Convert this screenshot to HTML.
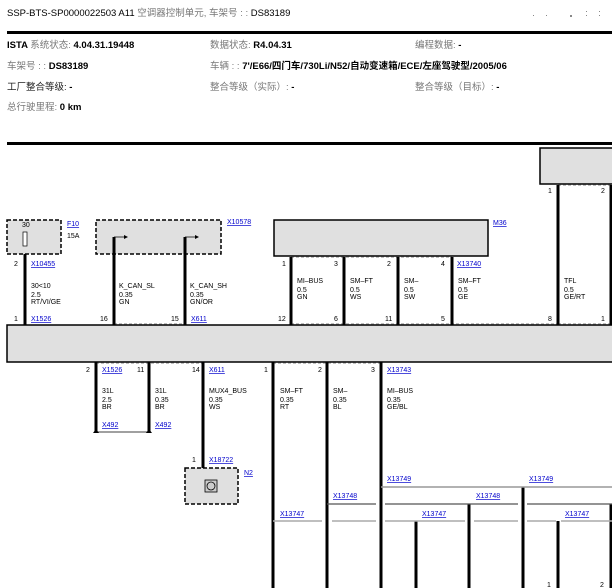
<!DOCTYPE html>
<html><head><meta charset="utf-8"><style>
html,body{margin:0;padding:0;background:#fff;width:612px;height:588px;overflow:hidden}
svg{display:block}
text{font-family:"Liberation Sans","Noto Sans CJK SC",sans-serif}
.h{font-size:10px;fill:#000}
.g{fill:#777}
.s{font-size:7px;fill:#000}
.l{font-size:7px;fill:#00c;text-decoration:underline}
</style></head><body>
<svg width="612" height="588" viewBox="0 0 612 588" xmlns="http://www.w3.org/2000/svg">
<text x="7" y="16" class="h" style="font-size:9.5px">SSP-BTS-SP0000022503 A11 <tspan class="g">空调器控制单元, 车架号 : :</tspan> DS83189</text>
<g fill="#888"><rect x="533" y="15" width="1" height="1"/><rect x="546" y="15" width="1" height="1"/><rect x="570" y="15" width="2" height="2"/><rect x="586" y="11" width="1" height="1"/><rect x="586" y="15" width="1" height="1"/><rect x="599" y="11" width="1" height="1"/><rect x="599" y="15" width="1" height="1"/></g>
<rect x="7" y="31" width="605" height="3" fill="#000"/>
<g class="h" font-weight="bold" style="font-size:9.5px">
<text x="7" y="48">ISTA <tspan class="g" font-weight="normal">系统状态:</tspan> 4.04.31.19448</text>
<text x="210" y="48"><tspan class="g" font-weight="normal">数据状态:</tspan> R4.04.31</text>
<text x="415" y="48"><tspan class="g" font-weight="normal">编程数据:</tspan> -</text>
<text x="7" y="69"><tspan class="g" font-weight="normal">车架号 : :</tspan> DS83189</text>
<text x="210" y="69"><tspan class="g" font-weight="normal">车辆 : :</tspan> 7'/E66/四门车/730Li/N52/自动变速箱/ECE/左座驾驶型/2005/06</text>
<text x="7" y="90"><tspan font-weight="normal" fill="#222">工厂整合等级:</tspan> -</text>
<text x="210" y="90"><tspan class="g" font-weight="normal">整合等级（实际）:</tspan> -</text>
<text x="415" y="90"><tspan class="g" font-weight="normal">整合等级（目标）:</tspan> -</text>
<text x="7" y="110"><tspan class="g" font-weight="normal">总行驶里程:</tspan> 0 km</text>
</g>
<rect x="7" y="142" width="605" height="3" fill="#000"/>

<rect x="7" y="220" width="54" height="34" fill="#e0e0e0" stroke="#000" stroke-width="1.5" stroke-dasharray="4,2"/>
<rect x="23" y="232" width="4" height="14" fill="#fff" stroke="#000" stroke-width="0.7"/>
<text x="22" y="227" class="s">30</text>
<text x="67" y="226" class="l">F10</text><text x="67" y="238" class="s">15A</text>
<rect x="96" y="220" width="125" height="34" fill="#e0e0e0" stroke="#000" stroke-width="1.5" stroke-dasharray="4,2"/>
<text x="227" y="224" class="l">X10578</text>
<path d="M114 237H124M185 237H195" stroke="#000" stroke-width="0.8"/>
<path d="M124 235l4 2-4 2zM195 235l4 2-4 2z" fill="#000"/>
<rect x="274" y="220" width="214" height="36" fill="#e0e0e0" stroke="#000" stroke-width="1.5"/>
<text x="493" y="225" class="l">M36</text>
<rect x="540" y="148" width="80" height="36" fill="#e0e0e0" stroke="#000" stroke-width="1.5"/>

<rect x="7" y="325" width="610" height="37" fill="#e0e0e0" stroke="#000" stroke-width="1.5"/>

<g stroke="#555" stroke-width="0.7" stroke-dasharray="3,2" fill="none">
<path d="M114 324H185"/><path d="M291 257H452"/><path d="M291 324H558"/><path d="M558 185H612"/><path d="M558 324H612"/>
<path d="M96 363H203"/><path d="M273 363H381"/>
</g>

<g stroke="#000" stroke-width="3">
<path d="M25 254V325M114 237V325M185 237V325M291 257V325M344 257V325M398 257V325M452 257V325M558 185V325M611 185V325"/>
</g>
<g class="s">
<text x="14" y="266">2</text><text x="31" y="266" class="l">X10455</text>
<text x="31" y="288">30&lt;10</text><text x="31" y="297">2.5</text><text x="31" y="304">RT/VI/GE</text>
<text x="14" y="321">1</text><text x="31" y="321" class="l">X1526</text>
<text x="119" y="288">K_CAN_SL</text><text x="119" y="297">0.35</text><text x="119" y="304">GN</text>
<text x="190" y="288">K_CAN_SH</text><text x="190" y="297">0.35</text><text x="190" y="304">GN/OR</text>
<text x="100" y="321">16</text><text x="171" y="321">15</text><text x="191" y="321" class="l">X611</text>
<text x="282" y="266">1</text><text x="334" y="266">3</text><text x="387" y="266">2</text><text x="441" y="266">4</text>
<text x="457" y="266" class="l">X13740</text>
<text x="297" y="283">MI–BUS</text><text x="297" y="292">0.5</text><text x="297" y="299">GN</text>
<text x="350" y="283">SM–FT</text><text x="350" y="292">0.5</text><text x="350" y="299">WS</text>
<text x="404" y="283">SM–</text><text x="404" y="292">0.5</text><text x="404" y="299">SW</text>
<text x="458" y="283">SM–FT</text><text x="458" y="292">0.5</text><text x="458" y="299">GE</text>
<text x="564" y="283">TFL</text><text x="564" y="292">0.5</text><text x="564" y="299">GE/RT</text>
<text x="278" y="321">12</text><text x="334" y="321">6</text><text x="385" y="321">11</text><text x="441" y="321">5</text>
<text x="548" y="321">8</text><text x="601" y="321">1</text>
<text x="548" y="193">1</text><text x="601" y="193">2</text>
</g>

<g stroke="#000" stroke-width="3">
<path d="M96 362V432M149 362V432M203 362V468M273 362V588M327 362V588M381 362V588"/>
<path d="M416 521V588M469 504V588M523 487V588M558 521V588M611 504V588"/>
</g>
<path d="M96 432H149" stroke="#000" stroke-width="0.7"/>
<path d="M93 433h6l-3-4zM146 433h6l-3-4z" fill="#000"/>
<g stroke="#999" stroke-width="1.5"><path d="M381 487H612"/></g>
<g stroke="#555" stroke-width="1.2"><path d="M327 504H376M385 504H518M527 504H612"/></g>
<g stroke="#aaa" stroke-width="1.5"><path d="M273 521H322M332 521H376M385 521H465M474 521H518M527 521H556M561 521H612"/></g>

<rect x="185" y="468" width="53" height="36" fill="#e0e0e0" stroke="#000" stroke-width="1.5" stroke-dasharray="4,2"/>
<rect x="205" y="480" width="12" height="12" fill="#ccc" stroke="#000" stroke-width="0.8"/>
<circle cx="211" cy="486" r="4" fill="none" stroke="#000" stroke-width="0.8"/>

<g class="s">
<text x="86" y="372">2</text><text x="102" y="372" class="l">X1526</text>
<text x="137" y="372">11</text><text x="192" y="372">14</text><text x="209" y="372" class="l">X611</text>
<text x="264" y="372">1</text><text x="318" y="372">2</text><text x="371" y="372">3</text>
<text x="387" y="372" class="l">X13743</text>
<text x="102" y="393">31L</text><text x="102" y="402">2.5</text><text x="102" y="409">BR</text>
<text x="155" y="393">31L</text><text x="155" y="402">0.35</text><text x="155" y="409">BR</text>
<text x="209" y="393">MUX4_BUS</text><text x="209" y="402">0.35</text><text x="209" y="409">WS</text>
<text x="280" y="393">SM–FT</text><text x="280" y="402">0.35</text><text x="280" y="409">RT</text>
<text x="333" y="393">SM–</text><text x="333" y="402">0.35</text><text x="333" y="409">BL</text>
<text x="387" y="393">MI–BUS</text><text x="387" y="402">0.35</text><text x="387" y="409">GE/BL</text>
<text x="102" y="427" class="l">X492</text><text x="155" y="427" class="l">X492</text>
<text x="192" y="462">1</text><text x="209" y="462" class="l">X18722</text>
<text x="244" y="475" class="l">N2</text>
<text x="387" y="481" class="l">X13749</text><text x="529" y="481" class="l">X13749</text>
<text x="333" y="498" class="l">X13748</text><text x="476" y="498" class="l">X13748</text>
<text x="280" y="516" class="l">X13747</text><text x="422" y="516" class="l">X13747</text><text x="565" y="516" class="l">X13747</text>
<text x="547" y="587">1</text><text x="600" y="587">2</text>
</g>
</svg>
</body></html>
